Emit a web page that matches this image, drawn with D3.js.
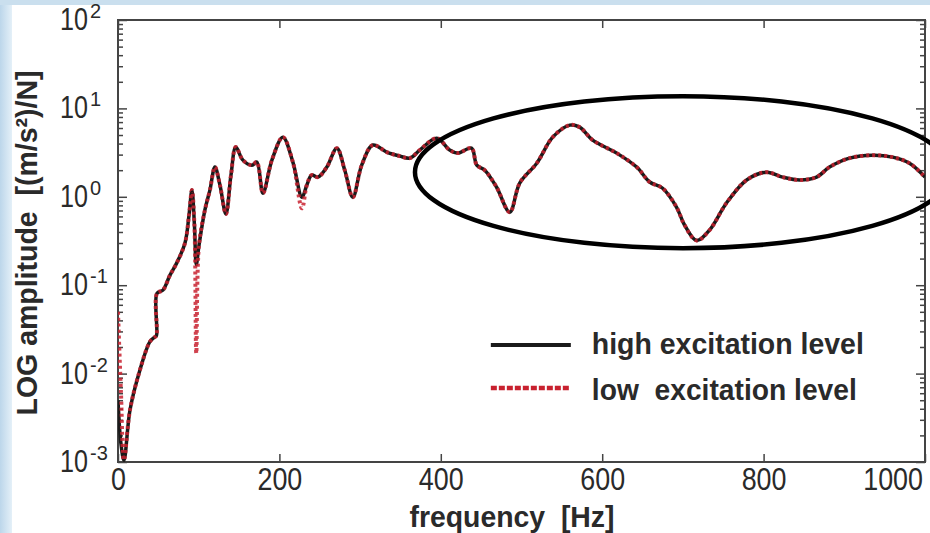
<!DOCTYPE html>
<html>
<head>
<meta charset="utf-8">
<script src="https://cdn.jsdelivr.net/npm/d3@7"></script>
<style>
  body { margin: 0; background: #fff; }
  svg text { font-family: "Liberation Sans", Arial, sans-serif; fill: #2a2a2a; }
</style>
</head>
<body>
<div id="chart"></div>
<script>
// frequency response
const freq = [0, 3.7, 7.4, 14.9, 27.2, 39.6, 45.8, 47.7, 48.3, 55.7, 64.4, 73, 83, 88, 91.6, 94.7, 97, 100.3,
  107.7, 113.9, 120.1, 126.3, 133.7, 140, 146, 154.8, 166, 172, 179.6, 190.7, 204.3, 216.7, 227.9, 234, 240,
  247.7, 258.8, 271.2, 281, 291, 302, 315.8, 333, 349, 361.6, 374, 395, 411, 421, 438, 444.6, 454.5, 469,
  485.4, 497.8, 518.9, 538.7, 559.8, 572, 588.2, 618, 642.7, 658.8, 674.9, 692.2, 702, 717, 733, 754, 779,
  803.7, 823.5, 844.6, 865.6, 881.7, 906.5, 935, 959.8, 980.8, 1000];

const highLevel = [0.005, 0.0016, 0.00105, 0.0039, 0.011, 0.023, 0.026, 0.027, 0.081, 0.088, 0.13, 0.18, 0.30,
  0.62, 1.19, 0.48, 0.17, 0.28, 0.71, 1.19, 2.17, 1.36, 0.64, 1.76, 3.65, 2.6, 2.28, 2.47, 1.10, 2.6, 4.73,
  2.47, 0.99, 1.36, 1.76, 1.67, 2.17, 3.55, 2.0, 0.99, 2.28, 3.85, 3.2, 2.89, 2.74, 3.38, 4.6, 3.38, 3.12,
  3.55, 2.28, 2.0, 1.29, 0.67, 1.43, 2.4, 4.73, 6.47, 6.14, 4.38, 3.12, 2.17, 1.47, 1.25, 0.76, 0.48, 0.32,
  0.42, 0.85, 1.55, 1.9, 1.67, 1.55, 1.67, 2.17, 2.74, 2.96, 2.81, 2.4, 1.67];

const lowLevel = [0.05, 0.006, 0.00105, 0.0039, 0.011, 0.023, 0.026, 0.027, 0.081, 0.088, 0.13, 0.18, 0.30,
  0.62, 1.19, 0.48, 0.017, 0.28, 0.71, 1.19, 2.17, 1.36, 0.64, 1.76, 3.65, 2.6, 2.28, 2.47, 1.10, 2.6, 4.73,
  2.47, 0.74, 1.36, 1.76, 1.67, 2.17, 3.55, 2.0, 0.99, 2.28, 3.85, 3.2, 2.89, 2.74, 3.38, 4.6, 3.38, 3.12,
  3.55, 2.28, 2.0, 1.29, 0.67, 1.43, 2.4, 4.73, 6.47, 6.14, 4.38, 3.12, 2.17, 1.47, 1.25, 0.76, 0.48, 0.32,
  0.42, 0.85, 1.55, 1.9, 1.67, 1.55, 1.67, 2.17, 2.74, 2.96, 2.81, 2.4, 1.67];

const xTicks = [0, 200, 400, 600, 800, 1000];
const yExponents = [-3, -2, -1, 0, 1, 2];
const legendLabels = ["high excitation level", "low  excitation level"];

// circled region (centre freq, centre amplitude, half width in Hz, half height in decades)
const focusFreq = 700, focusAmp = 1.9, focusHalfHz = 332, focusHalfDec = 0.86;

const W = 930, H = 533;
const margin = { top: 20, right: 5, bottom: 71, left: 118 };
const width = W - margin.left - margin.right;
const height = H - margin.top - margin.bottom;

const root = d3.select("#chart").append("svg")
  .attr("width", W).attr("height", H)
  .attr("viewBox", `0 0 ${W} ${H}`);

// light blue page frame
const grad = root.append("defs").append("linearGradient").attr("id", "edge");
grad.append("stop").attr("offset", "0%").attr("stop-color", "#bcd6ea");
grad.append("stop").attr("offset", "100%").attr("stop-color", "#e4f0f8");
root.append("rect").attr("width", W).attr("height", H).attr("fill", "#fff");
root.append("rect").attr("width", 12).attr("height", H).attr("fill", "url(#edge)");
root.append("rect").attr("width", W).attr("height", 5).attr("fill", "#cadfee");

const svg = root.append("g").attr("transform", `translate(${margin.left},${margin.top})`);

const x = d3.scaleLinear().domain([0, 1000]).range([0, width]);
const y = d3.scaleLog().domain([1e-3, 1e2]).range([height, 0]);

svg.append("clipPath").attr("id", "plot")
  .append("rect").attr("width", width).attr("height", height);

// minor log ticks
const minors = [];
for (let e = -3; e < 2; e++) for (let k = 2; k <= 9; k++) minors.push(k * Math.pow(10, e));
const majors = yExponents.map(e => Math.pow(10, e));

function styleAxis(g) {
  g.select(".domain").remove();
  g.selectAll(".tick line").attr("stroke", "#444").attr("stroke-width", 1.5);
}

svg.append("g").call(d3.axisLeft(y).tickValues(minors).tickSize(-5).tickFormat("")).call(styleAxis);
svg.append("g").call(d3.axisLeft(y).tickValues(majors).tickSize(-9).tickFormat("")).call(styleAxis);
svg.append("g").attr("transform", `translate(${width},0)`)
  .call(d3.axisRight(y).tickValues(minors).tickSize(-5).tickFormat("")).call(styleAxis);
svg.append("g").attr("transform", `translate(${width},0)`)
  .call(d3.axisRight(y).tickValues(majors).tickSize(-9).tickFormat("")).call(styleAxis);
svg.append("g").call(d3.axisTop(x).tickValues(xTicks).tickSize(-8).tickFormat("")).call(styleAxis);

// the reference digits are condensed: squeeze them horizontally
const xAxisG = svg.append("g").attr("transform", `translate(0,${height})`)
  .call(d3.axisBottom(x).tickValues(xTicks).tickSize(-8).tickPadding(5).tickFormat(d3.format("d")))
  .call(styleAxis);
xAxisG.selectAll(".tick text")
  .style("font-size", "32px").attr("fill", "#2a2a2a")
  .attr("transform", "scale(0.84,1)")
  .attr("x", d => d === 1000 ? -3 : 0)
  .attr("text-anchor", d => d === 1000 ? "end" : "middle");

// y tick labels as 10^n: base and exponent as separate texts
const yLab = svg.append("g");
yLab.selectAll("text.base")
  .data(yExponents).join("text").attr("class", "base")
  .attr("transform", d => `translate(-30,${y(Math.pow(10, d)) + 10}) scale(0.81,1)`)
  .attr("text-anchor", "end")
  .style("font-size", "31px")
  .text("10");
yLab.selectAll("text.expo")
  .data(yExponents).join("text").attr("class", "expo")
  .attr("x", -28)
  .attr("y", d => y(Math.pow(10, d)) - 2)
  .style("font-size", "20px")
  .text(d => d);

// frame
svg.append("rect").attr("width", width).attr("height", height)
  .attr("fill", "none").attr("stroke", "#444").attr("stroke-width", 2);

// curves
const line = d3.line()
  .x(d => x(d[0])).y(d => y(d[1]))
  .curve(d3.curveCatmullRom.alpha(0.5));

const curves = svg.append("g").attr("clip-path", "url(#plot)");
curves.append("path")
  .attr("d", line(freq.map((f, i) => [f, highLevel[i]])))
  .attr("fill", "none").attr("stroke", "#1a1a1a").attr("stroke-width", 3.5);
curves.append("path")
  .attr("d", line(freq.map((f, i) => [f, lowLevel[i]])))
  .attr("fill", "none").attr("stroke", "#c8212f").attr("stroke-width", 4)
  .attr("stroke-dasharray", "3,3").attr("opacity", 0.85);

// legend
const legend = svg.append("g").attr("transform", `translate(${x(462)},${y(0.021)})`);
legend.append("line").attr("x1", 0).attr("x2", 80).attr("y1", 0).attr("y2", 0)
  .attr("stroke", "#1a1a1a").attr("stroke-width", 4);
legend.append("line").attr("x1", 0).attr("x2", 80).attr("y1", 43).attr("y2", 43)
  .attr("stroke", "#c8212f").attr("stroke-width", 4.5).attr("stroke-dasharray", "6,2");
legend.selectAll("text").data(legendLabels).join("text")
  .attr("x", 101).attr("y", (d, i) => 9 + i * 46)
  .style("font-size", "29px").style("font-weight", "bold")
  .style("white-space", "pre")
  .attr("textLength", (d, i) => i === 0 ? 272 : 265)
  .attr("lengthAdjust", "spacingAndGlyphs")
  .text(d => d);

// annotation ellipse
const cy = y(focusAmp);
root.append("ellipse")
  .attr("cx", margin.left + x(focusFreq))
  .attr("cy", margin.top + cy)
  .attr("rx", x(focusHalfHz) - x(0))
  .attr("ry", y(focusAmp / Math.pow(10, focusHalfDec)) - cy)
  .attr("fill", "none").attr("stroke", "#000").attr("stroke-width", 4.5);

// axis titles
root.append("text")
  .attr("x", 512).attr("y", 527)
  .attr("text-anchor", "middle")
  .style("font-size", "30px").style("font-weight", "bold").style("white-space", "pre")
  .attr("textLength", 205).attr("lengthAdjust", "spacingAndGlyphs")
  .text("frequency  [Hz]");

root.append("text")
  .attr("transform", "translate(37,243) rotate(-90)")
  .attr("text-anchor", "middle")
  .style("font-size", "30px").style("font-weight", "bold").style("white-space", "pre")
  .attr("textLength", 345).attr("lengthAdjust", "spacingAndGlyphs")
  .text("LOG amplitude  [(m/s²)/N]");
</script>
</body>
</html>
